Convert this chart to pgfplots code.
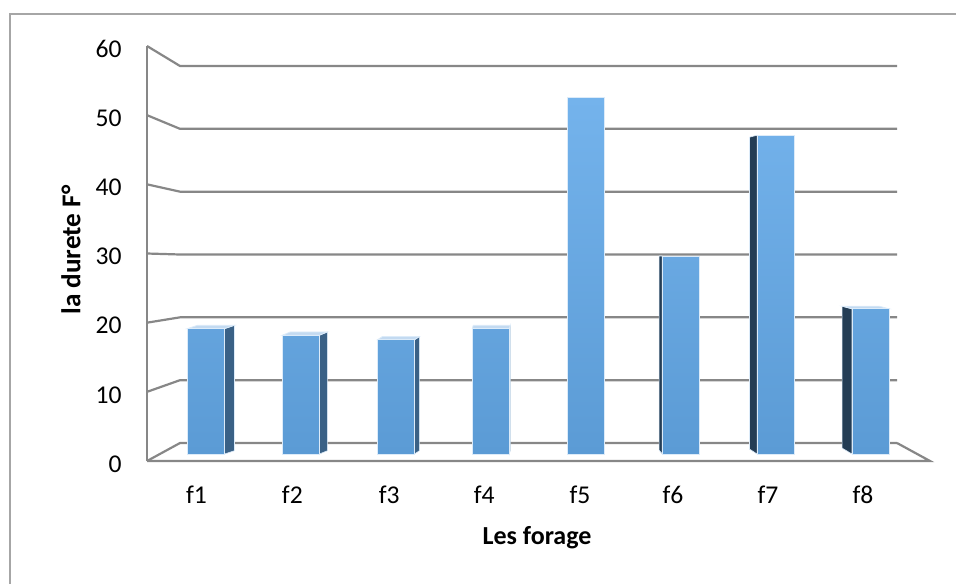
\documentclass[border=0pt]{standalone}
\usepackage{pgfplots}
\pgfplotsset{compat=1.18}
\usepackage{fontspec}
\setmainfont{Carlito}

\definecolor{gridgray}{HTML}{878787}
\definecolor{framegray}{HTML}{A6A6A6}
\definecolor{barlow}{HTML}{5B9BD5}
\definecolor{barhigh}{HTML}{74B3EC}
\definecolor{barrim}{HTML}{DCEBF9}
\definecolor{sideright}{HTML}{3A6186}
\definecolor{sideleft}{HTML}{243D55}
\definecolor{bartop}{HTML}{C3DAF1}

% hardness per borehole
\pgfplotstableread{
x  v
1  19
2  18
3  17.3
4  19
5  54
6  30
7  48.3
8  22
}\durete

\begin{document}
\begin{tikzpicture}[font=\fontsize{12.8}{15}\selectfont]
\useasboundingbox (0,0) rectangle (478pt,-292pt);
% chart area border
\draw[framegray, line width=0.7pt] (5pt,-292pt) -- (5pt,-7pt) -- (478pt,-7pt);

\begin{axis}[
  at={(73.5pt,-230.5pt)}, anchor=south west,
  width=391.5pt, height=207.5pt, scale only axis,
  xmin=0.3785, xmax=8.6266,
  ymin=-1.0606, ymax=61.818,
  clip=false,
  axis line style={draw=none},
  major tick length=0pt,
  xtick={0.9,1.91,2.93,3.93,4.94,5.92,6.92,7.92},
  xticklabels={f1,f2,f3,f4,f5,f6,f7,f8},
  xticklabel style={anchor=base, inner sep=0pt, yshift=-21pt},
  ytick={-1.0606,9.419,19.899,30.379,40.859,51.339,61.818},
  yticklabels={0,10,20,30,40,50,60},
  yticklabel style={anchor=east, inner sep=0pt, xshift=-12.5pt, yshift=-1.5pt},
]
% walls: front value axis, slanted connectors and back grid lines
\draw[gridgray, line width=1.1pt] (axis cs:0.3785,-1.0606) -- (axis cs:0.3785,61.818);
\pgfplotsinvokeforeach{0,10,...,60}{
  \draw[gridgray, line width=1.1pt]
    (axis cs:0.3785,{-1.0606+1.04798*#1}) --
    (axis cs:0.7261,{1.6667+0.95202*#1}) --
    (axis cs:8.2790,{1.6667+0.95202*#1});
}
% floor edge
\draw[gridgray, line width=1.1pt] (axis cs:0.3785,-1.0606) -- (axis cs:8.6266,-1.0606) -- (axis cs:8.2790,1.6667);

% bar side faces
\addplot[fill=sideright, draw=barrim, line width=0.3pt] coordinates {(1.195,0) (1.300,0.5) (1.300,19.5) (1.195,19)} -- cycle;
\addplot[fill=sideright, draw=barrim, line width=0.3pt] coordinates {(2.195,0) (2.279,0.5) (2.279,18.5) (2.195,18)} -- cycle;
\addplot[fill=sideright, draw=barrim, line width=0.3pt] coordinates {(3.195,0) (3.248,0.5) (3.248,17.8) (3.195,17.3)} -- cycle;
\addplot[fill=sideright, draw=barrim, line width=0.3pt] coordinates {(4.195,0) (4.205,0.5) (4.205,19.5) (4.195,19)} -- cycle;
\addplot[fill=sideleft, draw=barrim, line width=0.3pt] coordinates {(5.805,0) (5.773,0.6) (5.773,30) (5.805,30)} -- cycle;
\addplot[fill=sideleft, draw=barrim, line width=0.3pt] coordinates {(6.805,0) (6.725,0.75) (6.725,48.0) (6.805,48.3)} -- cycle;
\addplot[fill=sideleft, draw=barrim, line width=0.3pt] coordinates {(7.805,0) (7.700,0.9) (7.700,22.4) (7.805,22)} -- cycle;

% bar top faces
\addplot[fill=bartop, draw=barrim, line width=0.4pt] coordinates {(0.805,19) (1.195,19) (1.300,19.5) (0.910,19.5)} -- cycle;
\addplot[fill=bartop, draw=barrim, line width=0.4pt] coordinates {(1.805,18) (2.195,18) (2.279,18.5) (1.889,18.5)} -- cycle;
\addplot[fill=bartop, draw=barrim, line width=0.4pt] coordinates {(2.805,17.3) (3.195,17.3) (3.248,17.8) (2.858,17.8)} -- cycle;
\addplot[fill=bartop, draw=barrim, line width=0.4pt] coordinates {(3.805,19) (4.195,19) (4.205,19.5) (3.815,19.5)} -- cycle;
\addplot[fill=bartop, draw=barrim, line width=0.4pt] coordinates {(7.805,22) (8.195,22) (8.090,22.4) (7.700,22.4)} -- cycle;

% bar front faces
\addplot[ybar, bar width=0.39, draw=barrim, line width=0.5pt,
  top color=barhigh, bottom color=barlow] table[x=x, y=v] {\durete};
\end{axis}

\node[font=\fontsize{13.6}{16}\selectfont\bfseries, rotate=90] at (35.5pt,-125pt) {la durete F°};
\node[font=\fontsize{13}{15}\selectfont\bfseries, anchor=base] at (268.5pt,-272pt) {Les forage};
\end{tikzpicture}
\end{document}
